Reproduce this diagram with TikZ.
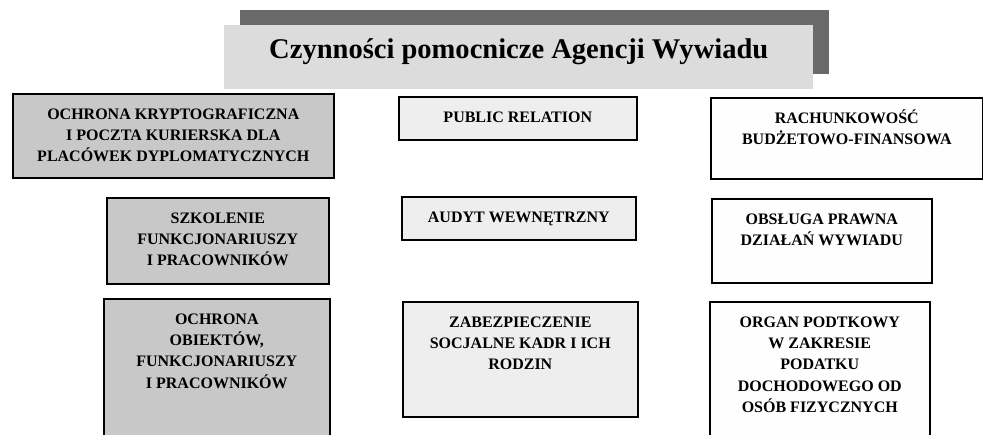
\documentclass[tikz,border=0pt]{standalone}
\usepackage{fontspec}
\setmainfont{Liberation Serif}
\definecolor{shadegray}{HTML}{696969}
\definecolor{titlegray}{HTML}{DCDCDC}
\definecolor{leftgray}{HTML}{C8C8C8}
\definecolor{midgray}{HTML}{EEEEEE}
\definecolor{rightgray}{HTML}{FEFEFE}
% box text: width, height, lines
\newcommand{\boxlines}[3]{\parbox[c][#2][t]{#1}{\centering\rule{0pt}{19pt}#3}}

\begin{document}
\begin{tikzpicture}[x=0.75pt,y=-0.75pt,
  every node/.style={inner sep=0pt,anchor=north west},
  task node/.style={draw,line width=1.2pt,font=\bfseries\fontsize{12}{16}\selectfont},
  left node/.style={task node,fill=leftgray},
  mid node/.style={task node,fill=midgray},
  right node/.style={task node,fill=rightgray}]

  \clip (0,0) rectangle (983,435);

  % title with its shadow
  \node[fill=shadegray,minimum width=441.75pt,minimum height=48pt] (shade) at (240,10) {};
  \node[fill=titlegray,font=\bfseries\fontsize{21.4}{25}\selectfont] (title) at (224,25)
    {\parbox[c][48pt][t]{441.75pt}{\centering\rule{0pt}{25pt}Czynności pomocnicze Agencji Wywiadu}};

  % left column
  \node[left node] (krypto) at (12,93)
    {\boxlines{240.75pt}{63pt}{OCHRONA KRYPTOGRAFICZNA\\I POCZTA KURIERSKA DLA\\PLACÓWEK DYPLOMATYCZNYCH}};
  \node[left node] (szkolenie) at (106,197)
    {\boxlines{166.5pt}{64.5pt}{SZKOLENIE\\FUNKCJONARIUSZY\\I PRACOWNIKÓW}};
  \node[left node] (ochrona) at (103,298)
    {\boxlines{169.5pt}{112.5pt}{OCHRONA\\OBIEKTÓW,\\FUNKCJONARIUSZY\\I PRACOWNIKÓW}};

  % middle column
  \node[mid node] (pr) at (398,96)
    {\boxlines{178.5pt}{32.25pt}{PUBLIC RELATION}};
  \node[mid node] (audyt) at (401,196)
    {\boxlines{175.5pt}{32.25pt}{AUDYT WEWNĘTRZNY}};
  \node[mid node] (socjal) at (402,301)
    {\boxlines{176.25pt}{86.25pt}{ZABEZPIECZENIE\\SOCJALNE KADR I ICH\\RODZIN}};

  % right column
  \node[right node] (rachunki) at (710,97)
    {\boxlines{204pt}{60.75pt}{RACHUNKOWOŚĆ\\BUDŻETOWO-FINANSOWA}};
  \node[right node] (prawo) at (711,198)
    {\boxlines{165pt}{63pt}{OBSŁUGA PRAWNA\\DZIAŁAŃ WYWIADU}};
  \node[right node] (podatki) at (709,301)
    {\boxlines{165pt}{112.5pt}{ORGAN PODTKOWY\\W ZAKRESIE\\PODATKU\\DOCHODOWEGO OD\\OSÓB FIZYCZNYCH}};

\end{tikzpicture}
\end{document}
